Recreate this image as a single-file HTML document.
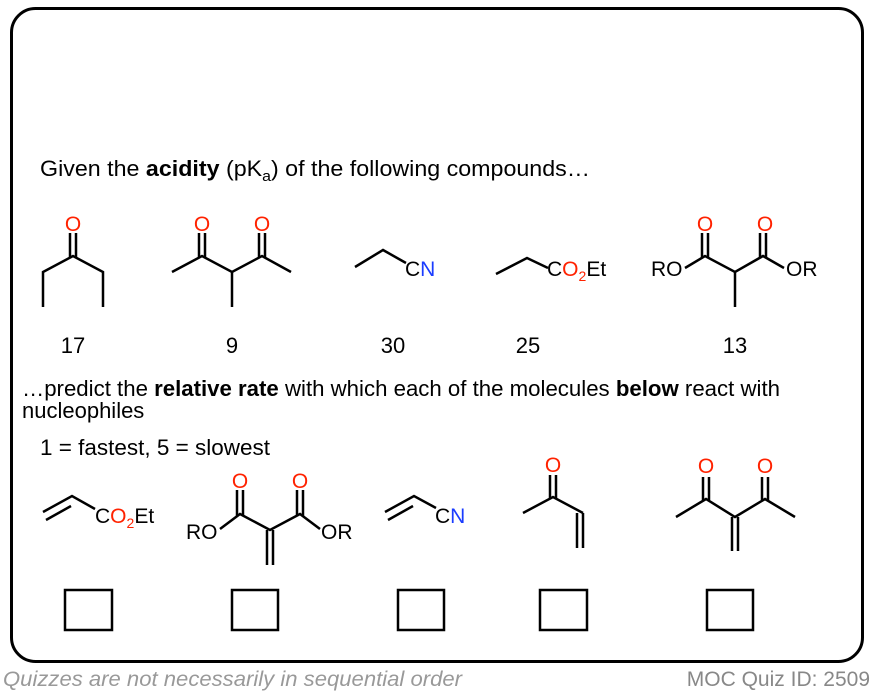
<!DOCTYPE html>
<html><head><meta charset="utf-8"><style>
body{margin:0;width:874px;height:694px;background:#fff;overflow:hidden}
svg{display:block}
text{font-family:"Liberation Sans",Arial,sans-serif}
</style></head><body>
<svg width="874" height="694" viewBox="0 0 874 694">
<rect x="11.5" y="8.5" width="851" height="653" rx="24" fill="none" stroke="#000" stroke-width="3"/>
<g font-size="22" fill="#000">
<text x="40" y="176" textLength="550" lengthAdjust="spacingAndGlyphs">Given the <tspan font-weight="bold">acidity</tspan> (pK<tspan font-size="15" dy="5">a</tspan><tspan dy="-5">) of the following compounds…</tspan></text>
<text x="22" y="396" textLength="758" lengthAdjust="spacingAndGlyphs">…predict the <tspan font-weight="bold">relative rate</tspan> with which each of the molecules <tspan font-weight="bold">below</tspan> react with</text>
<text x="22" y="418">nucleophiles</text>
<text x="40" y="455" textLength="230" lengthAdjust="spacingAndGlyphs">1 = fastest, 5 = slowest</text>
<text x="73" y="353" text-anchor="middle">17</text>
<text x="232" y="353" text-anchor="middle">9</text>
<text x="393" y="353" text-anchor="middle">30</text>
<text x="528" y="353" text-anchor="middle">25</text>
<text x="735" y="353" text-anchor="middle">13</text>
</g>
<g fill="none" stroke="#000" stroke-width="2.5" stroke-linecap="butt">
<polyline points="43,307 43,272 73,256 103,272 103,307"/>
<line x1="70" y1="233" x2="70" y2="258"/><line x1="76" y1="233" x2="76" y2="258"/>
<polyline points="172,272 202,256 232,272 262,256 291,272"/>
<line x1="232" y1="272" x2="232" y2="307"/>
<line x1="199" y1="233" x2="199" y2="258"/><line x1="205" y1="233" x2="205" y2="258"/>
<line x1="259" y1="233" x2="259" y2="258"/><line x1="265" y1="233" x2="265" y2="258"/>
<polyline points="355,267 383,250 406,263"/>
<polyline points="496,274 527,258 548,268"/>
<polyline points="685,268 705,256 735,272 763,256 784,268"/>
<line x1="735" y1="272" x2="735" y2="307"/>
<line x1="702" y1="233" x2="702" y2="258"/><line x1="708" y1="233" x2="708" y2="258"/>
<line x1="760" y1="233" x2="760" y2="258"/><line x1="766" y1="233" x2="766" y2="258"/>
<polyline points="43,512 72,496 95,509"/>
<line x1="46" y1="520" x2="71" y2="506"/>
<polyline points="220,529 240,514 270,530 300,514 320,529"/>
<line x1="237" y1="490" x2="237" y2="516"/><line x1="243" y1="490" x2="243" y2="516"/>
<line x1="297" y1="490" x2="297" y2="516"/><line x1="303" y1="490" x2="303" y2="516"/>
<line x1="267" y1="530" x2="267" y2="565"/><line x1="273" y1="530" x2="273" y2="565"/>
<polyline points="385,512 414,496 436,508"/>
<line x1="388" y1="520" x2="413" y2="506"/>
<polyline points="523,513 553,497 583,513"/>
<line x1="550" y1="475" x2="550" y2="498"/><line x1="556" y1="475" x2="556" y2="498"/>
<line x1="577" y1="513" x2="577" y2="548"/><line x1="583" y1="513" x2="583" y2="548"/>
<polyline points="676,517 706,499 735,517 765,499 795,517"/>
<line x1="703" y1="477" x2="703" y2="500"/><line x1="709" y1="477" x2="709" y2="500"/>
<line x1="762" y1="477" x2="762" y2="500"/><line x1="768" y1="477" x2="768" y2="500"/>
<line x1="732" y1="517" x2="732" y2="551"/><line x1="738" y1="517" x2="738" y2="551"/>
<rect x="65" y="590" width="47" height="40"/>
<rect x="232" y="590" width="46" height="40"/>
<rect x="398" y="590" width="46" height="40"/>
<rect x="540" y="590" width="47" height="40"/>
<rect x="707" y="590" width="46" height="40"/>
</g>
<g font-size="21" fill="#000">
<g fill="#ff2200" text-anchor="middle">
<text x="73" y="231">O</text><text x="202" y="231">O</text><text x="262" y="231">O</text>
<text x="705" y="231">O</text><text x="765" y="231">O</text>
<text x="240" y="488">O</text><text x="300" y="488">O</text>
<text x="553" y="472">O</text><text x="706" y="473">O</text><text x="765" y="473">O</text>
</g>
<text x="405" y="276">C<tspan fill="#1a3cff">N</tspan></text>
<text x="547" y="276">C<tspan fill="#ff2200">O<tspan font-size="14" dy="5">2</tspan></tspan><tspan dy="-5">Et</tspan></text>
<text x="651" y="276">RO</text><text x="786" y="276">OR</text>
<text x="95" y="523">C<tspan fill="#ff2200">O<tspan font-size="14" dy="5">2</tspan></tspan><tspan dy="-5">Et</tspan></text>
<text x="186" y="539">RO</text><text x="321" y="539">OR</text>
<text x="435" y="523">C<tspan fill="#1a3cff">N</tspan></text>
</g>
<text x="3" y="686" font-size="21" font-style="italic" fill="#999" textLength="459" lengthAdjust="spacingAndGlyphs">Quizzes are not necessarily in sequential order</text>
<text x="870" y="686" font-size="21" fill="#888" text-anchor="end">MOC Quiz ID: 2509</text>
</svg>
</body></html>
